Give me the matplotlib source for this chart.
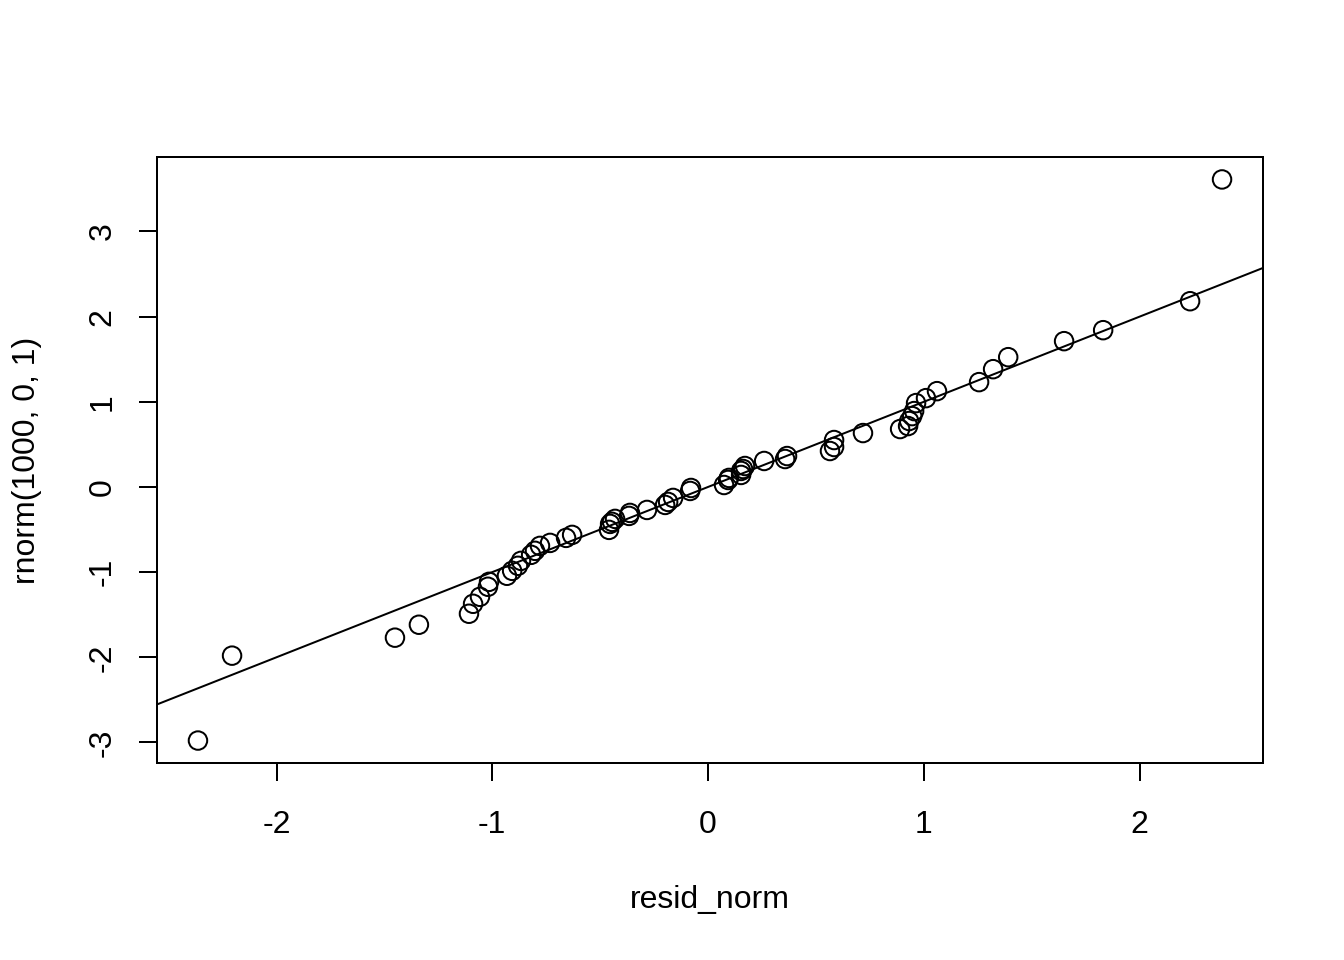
import matplotlib
matplotlib.use("Agg")
import matplotlib.pyplot as plt
import numpy as np

# sorted pairs
resid_norm = [-2.364, -2.206, -1.451, -1.340, -1.108, -1.089, -1.057, -1.020, -1.015,
              -0.932, -0.908, -0.881, -0.867, -0.820, -0.802, -0.779, -0.732, -0.658,
              -0.630, -0.459, -0.454, -0.445, -0.431, -0.366, -0.362, -0.283, -0.199,
              -0.185, -0.162, -0.083, -0.079, 0.074, 0.093, 0.097, 0.153, 0.153, 0.162,
              0.171, 0.260, 0.357, 0.366, 0.565, 0.584, 0.584, 0.718, 0.890, 0.927,
              0.932, 0.946, 0.955, 0.964, 1.010, 1.061, 1.256, 1.321, 1.391, 1.650,
              1.831, 2.234, 2.382]
rnorm_q = [-2.978, -1.981, -1.770, -1.618, -1.489, -1.372, -1.290, -1.172, -1.114,
           -1.043, -0.985, -0.926, -0.868, -0.797, -0.750, -0.692, -0.657, -0.598,
           -0.563, -0.504, -0.434, -0.410, -0.375, -0.340, -0.305, -0.270, -0.211,
           -0.176, -0.129, -0.047, -0.012, 0.023, 0.082, 0.106, 0.141, 0.188, 0.211,
           0.246, 0.305, 0.328, 0.363, 0.422, 0.469, 0.551, 0.633, 0.680, 0.715,
           0.774, 0.832, 0.891, 0.985, 1.043, 1.125, 1.231, 1.383, 1.524, 1.712,
           1.841, 2.181, 3.611]

# reference line (abline)
line_intercept = 0.0
line_slope = 1.0

x_ticks = [-2, -1, 0, 1, 2]
y_ticks = [-3, -2, -1, 0, 1, 2, 3]

plt.rcParams['font.family'] = ['Liberation Sans', 'DejaVu Sans']
plt.rcParams['font.size'] = 12

fig = plt.figure(figsize=(7, 5), dpi=192)
ax = fig.add_axes([157 / 1344, 1 - 763 / 960, 1106 / 1344, 606 / 960])

ax.scatter(resid_norm, rnorm_q, s=48, facecolors='none', edgecolors='black', linewidths=0.75, zorder=3)

# R style 4% padding
xr = max(resid_norm) - min(resid_norm)
yr = max(rnorm_q) - min(rnorm_q)
ax.set_xlim(min(resid_norm) - 0.04 * xr, max(resid_norm) + 0.04 * xr)
ax.set_ylim(min(rnorm_q) - 0.04 * yr, max(rnorm_q) + 0.04 * yr)

xx = np.array(ax.get_xlim())
ax.plot(xx, line_intercept + line_slope * xx, color='black', linewidth=0.75)
ax.set_xlim(xx)

ax.set_xticks(x_ticks)
ax.set_yticks(y_ticks)
ax.set_xticklabels([str(t) for t in x_ticks])
ax.set_yticklabels([str(t) for t in y_ticks], rotation=90, va='center')
ax.tick_params(direction='out', length=6.75, width=0.75, colors='black')
ax.tick_params(axis='x', pad=11)
ax.tick_params(axis='y', pad=8)
for sp in ax.spines.values():
    sp.set_linewidth(0.75)

ax.set_xlabel('resid_norm', va='center')
ax.xaxis.set_label_coords(0.5, (763 - 900) / 606)
ax.set_ylabel('rnorm(1000, 0, 1)', va='center')
ax.yaxis.set_label_coords((27 - 157) / 1106, 0.5)

fig.savefig('out.png', dpi=192)
